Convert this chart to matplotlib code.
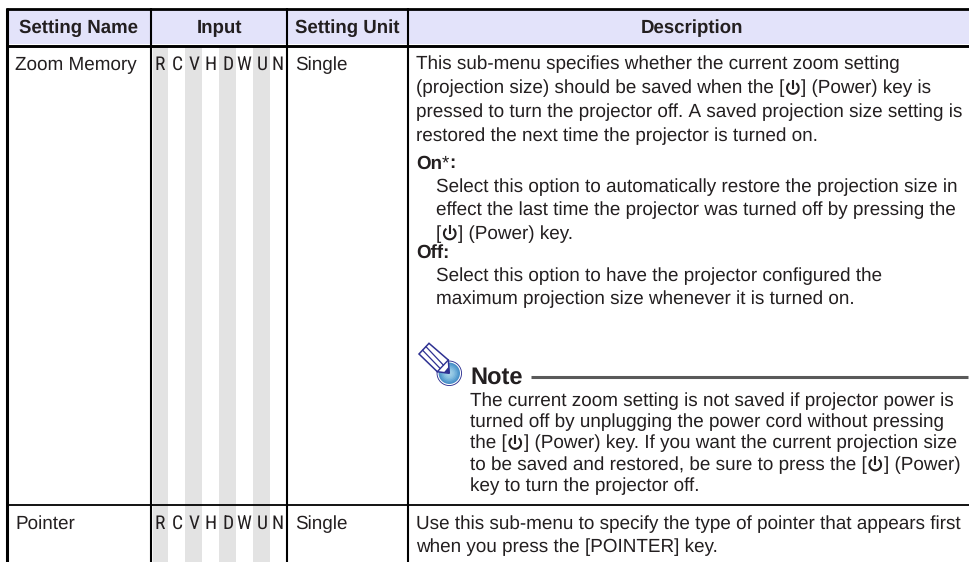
import numpy as np
import matplotlib
matplotlib.use("Agg")
import matplotlib.pyplot as plt
from matplotlib.patches import Rectangle, Circle, Polygon, Arc

headers = ["Setting Name", "Input", "Setting Unit", "Description"]
input_letters = ["R", "C", "V", "H", "D", "W", "U", "N"]
row_names = ["Zoom Memory", "Pointer"]
row_units = ["Single", "Single"]
note_title = "Note"

# @ marks the power key symbol
zoom_lines = [
    "This sub-menu specifies whether the current zoom setting",
    "(projection size) should be saved when the [@] (Power) key is",
    "pressed to turn the projector off. A saved projection size setting is",
    "restored the next time the projector is turned on.",
]
on_label = ["On", "*", ":"]
on_lines = [
    "Select this option to automatically restore the projection size in",
    "effect the last time the projector was turned off by pressing the",
    "[@] (Power) key.",
]
off_label = "Off:"
off_lines = [
    "Select this option to have the projector configured the",
    "maximum projection size whenever it is turned on.",
]
note_lines = [
    "The current zoom setting is not saved if projector power is",
    "turned off by unplugging the power cord without pressing",
    "the [@] (Power) key. If you want the current projection size",
    "to be saved and restored, be sure to press the [@] (Power)",
    "key to turn the projector off.",
]
pointer_lines = [
    "Use this sub-menu to specify the type of pointer that appears first",
    "when you press the [POINTER] key.",
]

W, H = 969, 562
plt.rcParams["font.family"] = ["Liberation Sans", "DejaVu Sans"]
plt.rcParams["text.hinting"] = "no_hinting"
fig = plt.figure(figsize=(W / 100, H / 100), dpi=100)
ax = fig.add_axes([0, 0, 1, 1])
ax.set_xlim(0, W)
ax.set_ylim(H, 0)
ax.axis("off")

FS = 13.6
INK = "#231f20"
BLUE = "#2e3192"


def power_icon(x, y, r=5.8, lw=1.5):
    ax.add_patch(Arc((x, y), 2 * r, 2 * r, theta1=-55, theta2=235, lw=lw, color=INK, zorder=4))
    ax.plot([x, x], [y - r - 2.5, y + 0.5], color=INK, lw=lw, zorder=4, solid_capstyle="butt")


def rich_line(x, y, s, fs=FS):
    r = fig.canvas.get_renderer()
    parts = s.split("@")
    for i, p in enumerate(parts):
        # keep trailing and leading spaces in the measured width
        t = ax.text(x, y, p.replace(" ", "\u00a0"), fontsize=fs, color=INK, va="baseline", ha="left")
        x = x + t.get_window_extent(r).width
        if i < len(parts) - 1:
            power_icon(x + 8.5, y - 5.5)
            x += 17


# header band
ax.add_patch(Rectangle((7, 9), W - 7, 35, fc="#e3e3fa", ec="none", zorder=0))

# input column strips
for left, right in [(153, 168), (185, 202), (219, 236), (253, 270)]:
    ax.add_patch(Rectangle((left, 46), right - left, H - 46, fc="#e3e3e3", ec="none", zorder=0))

# table rules
ax.plot([6, W], [8.7, 8.7], color="black", lw=2.0, solid_capstyle="butt", zorder=3)
ax.plot([6, W], [45.5, 45.5], color="black", lw=2.1, solid_capstyle="butt", zorder=3)
ax.plot([6, W], [504.7, 504.7], color="black", lw=1.3, solid_capstyle="butt", zorder=3)
ax.plot([7.5, 7.5], [8, H], color="black", lw=2.2, solid_capstyle="butt", zorder=3)
for x in [151.3, 286.8, 408.3]:
    ax.plot([x, x], [8, H], color="black", lw=1.5, solid_capstyle="butt", zorder=3)

# header text
hx = [79, 219.5, 347.5, 691.5]
for x, s in zip(hx, headers):
    ax.text(x, 33, s, fontsize=13.45, fontweight="bold", color=INK, ha="center", va="baseline")

# left columns
for y, name, unit in zip([70, 529], row_names, row_units):
    ax.text(15, y, name, fontsize=FS, color=INK, va="baseline")
    ax.text(295.5, y, unit, fontsize=FS, color=INK, va="baseline")
    for x, c in zip([160, 177, 194, 211, 228, 244, 262, 278], input_letters):
        ax.text(x, y, c, fontsize=14, family=["Roboto Condensed", "DejaVu Sans"],
                color=INK, ha="center", va="baseline")

# description column
for y, s in zip([69.5, 93.5, 117.5, 141.5], zoom_lines):
    rich_line(416, y, s)
# the asterisk is set lighter than the rest of the label
lx = 416.5
for s, w in zip(on_label, ["bold", "normal", "bold"]):
    t = ax.text(lx, 168.5, s, fontsize=13.5, fontweight=w, color=INK, va="baseline")
    lx += t.get_window_extent(fig.canvas.get_renderer()).width - 0.5
for y, s in zip([192, 215.5, 239], on_lines):
    rich_line(436, y, s)
ax.text(416.5, 258, off_label, fontsize=13.5, fontweight="bold", color=INK, va="baseline")
for y, s in zip([281, 304], off_lines):
    rich_line(436, y, s)

# note block
ax.text(470, 384, note_title, fontsize=17, fontweight="bold", color=INK, va="baseline")
ax.plot([531, 968], [376.5, 376.5], color="#5a5a5a", lw=2.2, solid_capstyle="butt")
for y, s in zip([406, 427, 448.5, 470, 491.5], note_lines):
    rich_line(470, y, s)

# pointer row
for y, s in zip([529, 552], pointer_lines):
    rich_line(416, y, s)

# note icon: blue disc with a pencil
cx, cy = 449.3, 373.3
ax.add_patch(Circle((cx, cy), 12.7, fc=BLUE, ec="none", zorder=5))
ax.add_patch(Circle((cx, cy), 11.8, fc="white", ec="none", zorder=5))
for r, c in zip(np.arange(10.7, 0, -1.5), ["#4a90c8", "#5a9fd0", "#6dadd8", "#80bade", "#8fc4e2", "#9acbe6", "#a2d0e8"]):
    ax.add_patch(Circle((cx, cy), r, fc=c, ec="none", zorder=5))
ax.add_patch(Polygon([(429, 343.3), (419, 354), (437.3, 371.7), (449.3, 373.3), (448.3, 360)], closed=True,
                     fc="white", ec=BLUE, lw=1.1, zorder=6))
ax.add_patch(Polygon([(444, 372.3), (449.3, 373.3), (448.8, 366.5)], closed=True, fc=BLUE, ec="none", zorder=7))
ax.plot([437.3, 448.3], [371.7, 360], color=BLUE, lw=1.0, zorder=7)
ax.plot([426, 443.3], [346.7, 365], color=BLUE, lw=0.9, zorder=7)
ax.plot([422.7, 440], [350.3, 368.3], color=BLUE, lw=0.9, zorder=7)

fig.savefig("out.png", dpi=100)
